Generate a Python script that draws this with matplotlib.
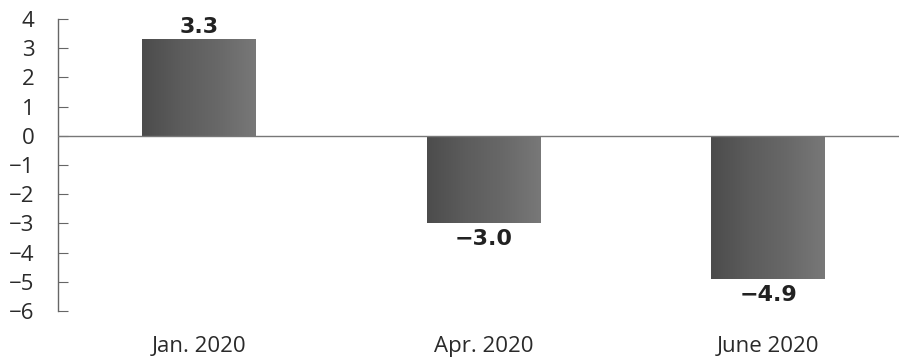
import matplotlib
matplotlib.use("Agg")
import matplotlib.pyplot as plt
import numpy as np

categories = ["Jan. 2020", "Apr. 2020", "June 2020"]
values = [3.3, -3.0, -4.9]
value_labels = ["3.3", "\u22123.0", "\u22124.9"]
y_ticks = list(range(-6, 5))

plt.rcParams["font.family"] = ["Open Sans", "DejaVu Sans"]

fig = plt.figure(figsize=(8.99, 3.57), dpi=100)
ax = fig.add_axes([0.0645, 0.129, 0.9355, 0.818])

x = np.arange(len(categories))
bars = ax.bar(x, values, width=0.4, color="#606060", zorder=2)

# cylinder-ish horizontal shading on each bar
grad = np.linspace(0, 1, 256).reshape(1, -1)
cmap = matplotlib.colors.LinearSegmentedColormap.from_list(
    "shade", ["#4c4c4c", "#5c5c5c", "#686868", "#787878"])
for b in bars:
    x0, y0 = b.get_x(), b.get_y()
    w, h = b.get_width(), b.get_height()
    im = ax.imshow(grad, cmap=cmap, aspect="auto", zorder=2,
                   extent=[x0, x0 + w, y0, y0 + h], interpolation="bicubic")
    im.set_clip_path(b)

ax.axhline(0, color="#777777", linewidth=1.0, zorder=3)

for xi, v, lab in zip(x, values, value_labels):
    if v >= 0:
        ax.text(xi, v + 0.08, lab, ha="center", va="bottom", family="DejaVu Sans",
                fontsize=16, fontweight="bold", color="#222222")
    else:
        ax.text(xi, v - 0.2, lab, ha="center", va="top", family="DejaVu Sans",
                fontsize=16, fontweight="bold", color="#222222")

ax.set_xlim(-0.496, 2.46)
ax.set_ylim(-6, 4)
ax.set_yticks(y_ticks)
ax.set_yticklabels([str(t).replace("-", "\u2212") for t in y_ticks])
ax.set_xticks(x)
ax.set_xticklabels(categories)

for s in ["top", "right", "bottom"]:
    ax.spines[s].set_visible(False)
ax.spines["left"].set_color("#666666")
ax.spines["left"].set_linewidth(1.0)
ax.tick_params(axis="y", direction="in", length=7, color="#666666",
               labelsize=16, labelcolor="#2a2a2a", pad=17)
ax.tick_params(axis="x", length=0, labelsize=16, labelcolor="#2a2a2a", pad=18)

fig.savefig("out.png", dpi=100)
